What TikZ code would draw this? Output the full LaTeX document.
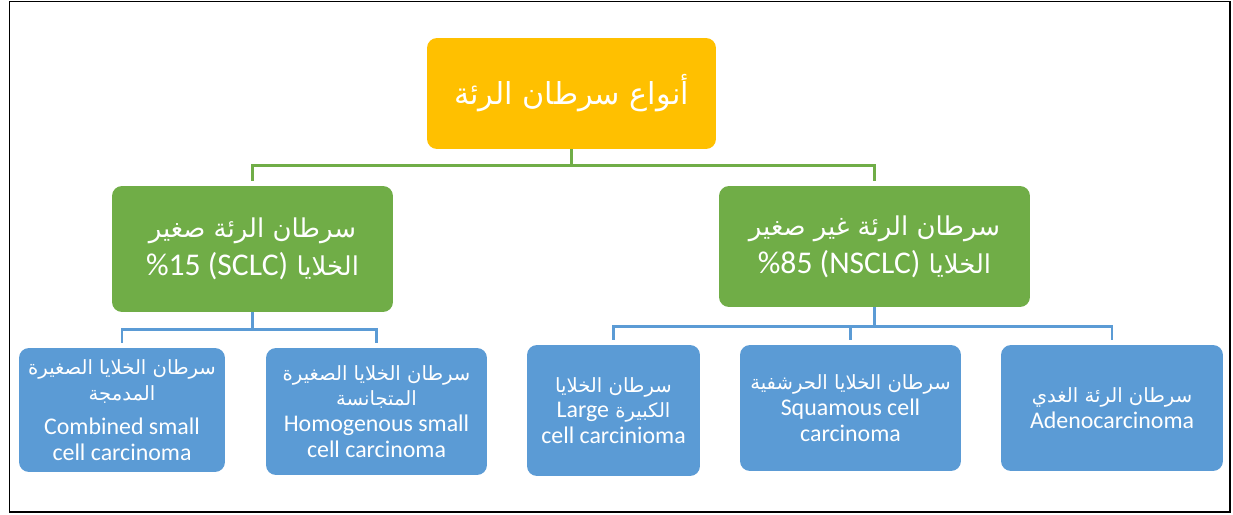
\documentclass[tikz,border=0pt]{standalone}
\usepackage{fontspec}
\setmainfont{Carlito}
\newfontfamily\arabicfont[Script=Arabic,Scale=0.82]{DejaVu Sans}
\newfontfamily\latinfont{Carlito}
\TeXXeTstate=1
\definecolor{boxorange}{HTML}{FFC000}
\definecolor{boxgreen}{HTML}{70AD47}
\definecolor{boxblue}{HTML}{5B9BD5}
\newcommand{\arb}[1]{{\arabicfont\beginR #1\endR}}
\newcommand{\lat}[1]{\beginL{\latinfont #1}\endL}

\begin{document}
\begin{tikzpicture}[x=0.02cm,y=-0.02cm,
    topbox/.style={fill=boxorange,rounded corners=0.2cm,text=white,align=center,inner sep=0pt,font=\fontsize{21}{25}\selectfont},
    typebox/.style={fill=boxgreen,rounded corners=0.2cm,text=white,align=center,inner sep=0pt,font=\fontsize{18}{21.5}\selectfont},
    subbox/.style={fill=boxblue,rounded corners=0.2cm,text=white,align=center,inner sep=0pt,font=\fontsize{13.6}{14.7}\selectfont},
    greenline/.style={draw=boxgreen,line width=1.4pt,shorten >=2.5pt},
    blueline/.style={draw=boxblue,line width=1.4pt,shorten >=2.5pt}]
    \useasboundingbox (0,0) rectangle (1233,514);
    \draw[line width=1pt] (9.5,1.5) rectangle (1230,512);

    \node[topbox,minimum width=5.78cm,minimum height=2.22cm] (types) at (571.5,93.5) {\arb{أنواع سرطان الرئة}};
    \node[typebox,minimum width=5.62cm,minimum height=2.52cm] (sclc) at (252.5,249) {\arb{سرطان الرئة صغير}\\ \arb{الخلايا \lat{\%15 (SCLC)}}};
    \node[typebox,minimum width=6.22cm,minimum height=2.42cm] (nsclc) at (874.5,246.5) {\arb{سرطان الرئة غير صغير}\\ \arb{الخلايا \lat{\%85 (NSCLC)}}};

    \node[subbox,minimum width=4.12cm,minimum height=2.48cm] (comb) at (122,410) {\arb{سرطان الخلايا الصغيرة}\\ \arb{المدمجة}\\[5pt] Combined small\\ cell carcinoma};
    \node[subbox,minimum width=4.42cm,minimum height=2.54cm] (homo) at (376.5,411.5) {\arb{سرطان الخلايا الصغيرة}\\ \arb{المتجانسة}\\ Homogenous small\\ cell carcinoma};
    \node[subbox,minimum width=3.46cm,minimum height=2.62cm] (large) at (613.5,410.5) {\arb{سرطان الخلايا}\\ \arb{الكبيرة \lat{Large}}\\ cell carcinioma};
    \node[subbox,minimum width=4.42cm,minimum height=2.52cm] (squam) at (850.5,408) {\arb{سرطان الخلايا الحرشفية}\\ Squamous cell\\ carcinoma};
    \node[subbox,minimum width=4.44cm,minimum height=2.52cm] (adeno) at (1112,408) {\arb{سرطان الرئة الغدي}\\ Adenocarcinoma};

    \draw[greenline] (types.south) -- ++(0,16) -| (sclc.north);
    \draw[greenline] (types.south) -- ++(0,16) -| (nsclc.north);
    \draw[blueline] (sclc.south) -- ++(0,17) -| (comb.north);
    \draw[blueline] (sclc.south) -- ++(0,17) -| (homo.north);
    \draw[blueline] (nsclc.south) -- ++(0,19) -| (large.north);
    \draw[blueline] (nsclc.south) -- ++(0,19) -| (squam.north);
    \draw[blueline] (nsclc.south) -- ++(0,19) -| (adeno.north);
\end{tikzpicture}
\end{document}
